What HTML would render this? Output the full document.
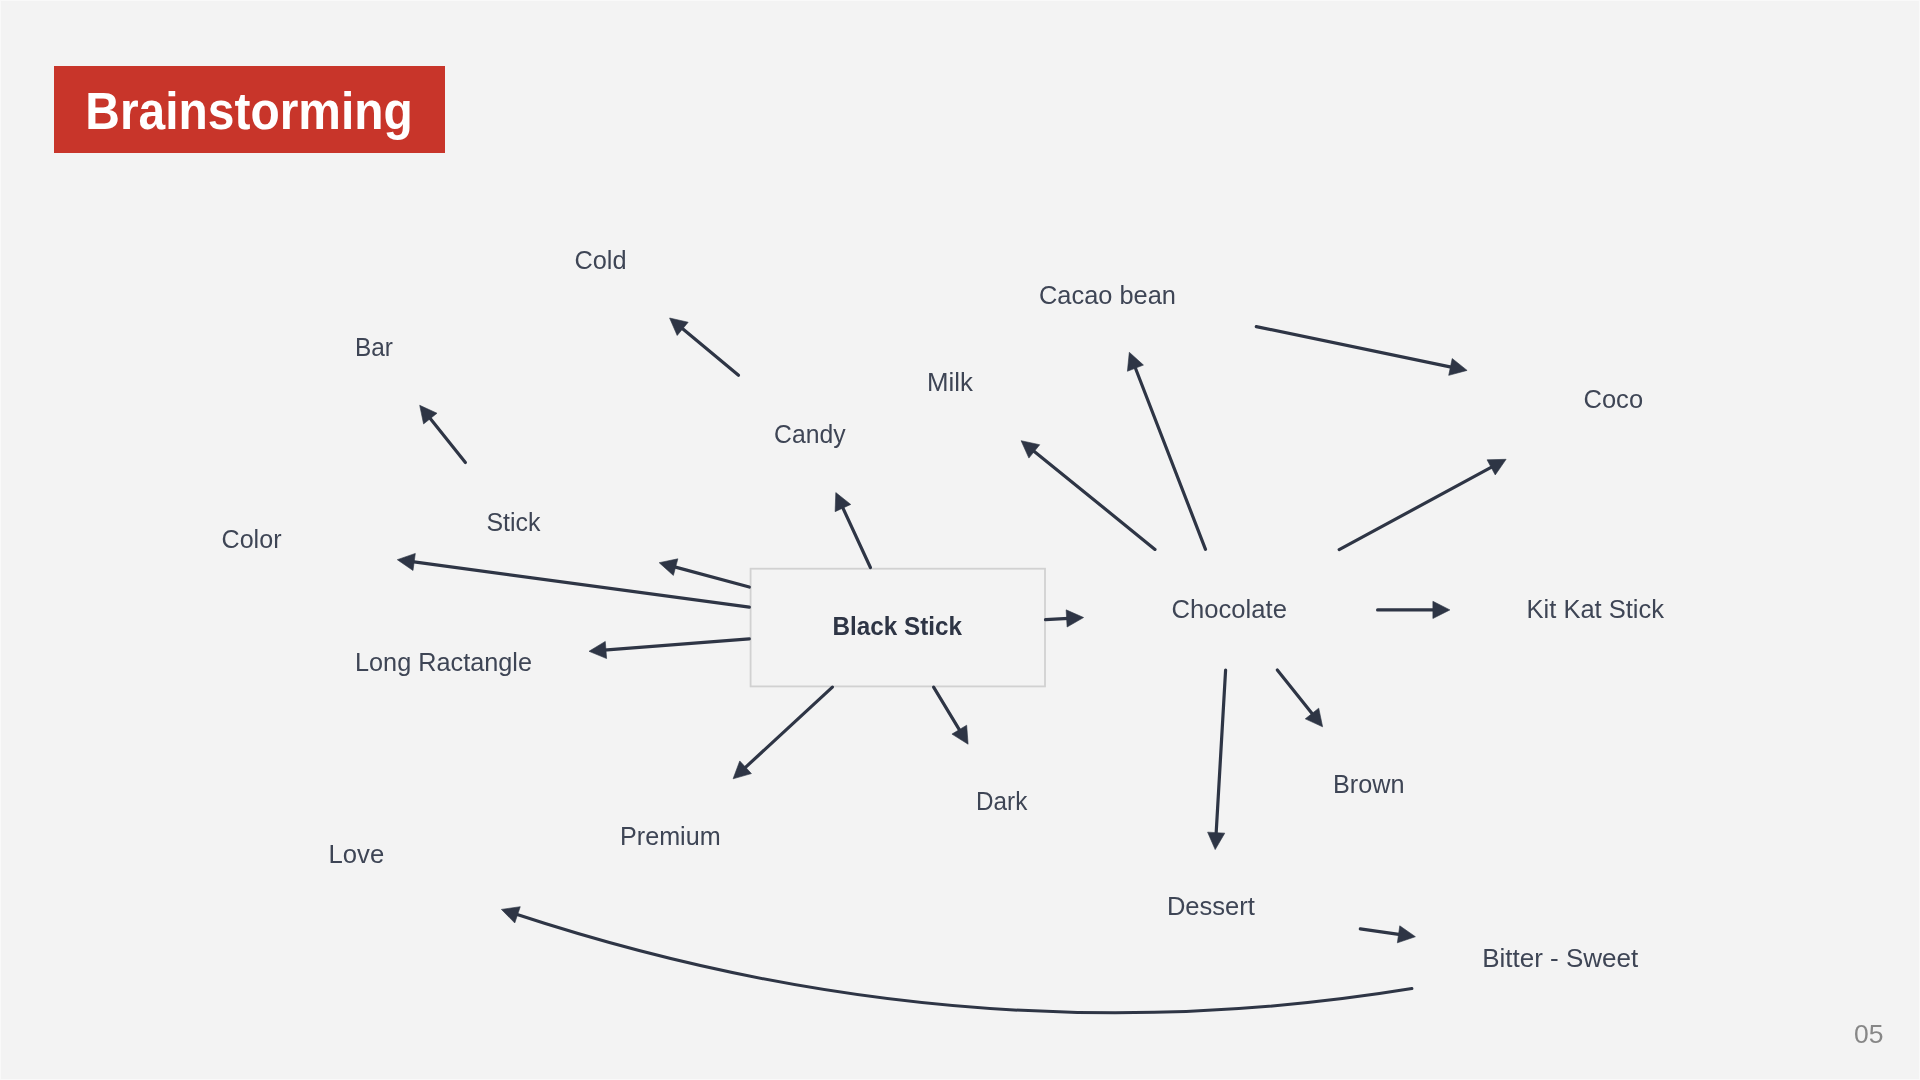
<!DOCTYPE html>
<html><head><meta charset="utf-8"><style>
html,body{margin:0;padding:0;width:1920px;height:1080px;overflow:hidden;background:#f3f3f3;}
body{position:relative;font-family:"Liberation Sans",sans-serif;}
.frame{position:absolute;left:0;top:0;width:1918px;height:1078px;border:1px solid #f9f9f9;}
.title{position:absolute;left:54px;top:66px;width:391px;height:86.5px;background:#c8352a;}
svg{position:absolute;left:0;top:0;will-change:transform;}
svg text{font-family:"Liberation Sans",sans-serif;}
</style></head><body>
<div class="frame"></div>
<div class="title"></div>

<svg width="1920" height="1080" viewBox="0 0 1920 1080">
<rect x="750.6" y="568.7" width="294.4" height="117.7" fill="none" stroke="#d1d1d1" stroke-width="1.8"/>
<g stroke="#2e3545" stroke-width="3.2" stroke-linecap="round" fill="none">
<line x1="738.50" y1="375.20" x2="681.14" y2="327.58"/>
<line x1="465.40" y1="462.60" x2="429.05" y2="417.03"/>
<line x1="1155.00" y1="549.40" x2="1032.75" y2="450.15"/>
<line x1="1205.50" y1="549.30" x2="1134.71" y2="366.29"/>
<line x1="1256.30" y1="326.60" x2="1452.41" y2="367.35"/>
<line x1="1339.20" y1="549.60" x2="1492.91" y2="466.44"/>
<line x1="870.40" y1="567.50" x2="842.09" y2="506.22"/>
<line x1="749.30" y1="587.00" x2="673.68" y2="566.61"/>
<line x1="749.30" y1="607.20" x2="412.17" y2="561.71"/>
<line x1="749.30" y1="638.80" x2="603.95" y2="650.13"/>
<line x1="1045.50" y1="619.60" x2="1068.62" y2="618.33"/>
<line x1="1377.60" y1="609.90" x2="1434.90" y2="609.90"/>
<line x1="832.40" y1="687.10" x2="744.12" y2="768.62"/>
<line x1="933.60" y1="687.10" x2="960.34" y2="731.36"/>
<line x1="1225.60" y1="670.00" x2="1216.07" y2="834.63"/>
<line x1="1277.30" y1="670.00" x2="1313.25" y2="715.07"/>
<line x1="1360.30" y1="928.90" x2="1400.55" y2="934.60"/>
<path d="M1411.90,988.56 Q963.76,1061.74 515.61,914.00" fill="none" stroke-width="3.0"/>
</g>
<g fill="#2e3545" stroke="#2e3545" stroke-width="0.6" stroke-linejoin="round">
<polygon points="669.60,318.00 688.17,322.24 677.19,335.48"/>
<polygon points="419.70,405.30 437.02,413.23 423.58,423.95"/>
<polygon points="1021.10,440.70 1039.72,444.74 1028.88,458.09"/>
<polygon points="1129.30,352.30 1143.45,365.05 1127.41,371.26"/>
<polygon points="1467.10,370.40 1448.71,375.36 1452.21,358.52"/>
<polygon points="1506.10,459.30 1495.24,474.95 1487.06,459.83"/>
<polygon points="835.80,492.60 850.74,504.43 835.12,511.64"/>
<polygon points="659.20,562.70 677.85,558.82 673.37,575.43"/>
<polygon points="397.30,559.70 415.30,553.45 413.00,570.50"/>
<polygon points="589.00,651.30 605.28,641.40 606.62,658.55"/>
<polygon points="1083.60,617.50 1067.10,627.02 1066.15,609.85"/>
<polygon points="1449.90,609.90 1432.90,618.50 1432.90,601.30"/>
<polygon points="733.10,778.80 739.75,760.95 751.42,773.58"/>
<polygon points="968.10,744.20 951.95,734.10 966.67,725.20"/>
<polygon points="1215.20,849.60 1207.60,832.13 1224.77,833.13"/>
<polygon points="1322.60,726.80 1305.28,718.87 1318.72,708.15"/>
<polygon points="1415.40,936.70 1397.36,942.83 1399.77,925.80"/>
<polygon points="501.40,909.40 520.26,906.69 514.76,922.98"/>
</g>
<text x="574.50" y="269.30" textLength="52.07" lengthAdjust="spacingAndGlyphs" font-size="25.5" font-weight="400" fill="#3e4555">Cold</text>
<text x="354.90" y="356.30" textLength="37.97" lengthAdjust="spacingAndGlyphs" font-size="25.5" font-weight="400" fill="#3e4555">Bar</text>
<text x="1039.00" y="304.30" textLength="136.95" lengthAdjust="spacingAndGlyphs" font-size="25.5" font-weight="400" fill="#3e4555">Cacao bean</text>
<text x="926.90" y="390.80" textLength="45.91" lengthAdjust="spacingAndGlyphs" font-size="25.5" font-weight="400" fill="#3e4555">Milk</text>
<text x="1583.50" y="408.30" textLength="59.57" lengthAdjust="spacingAndGlyphs" font-size="25.5" font-weight="400" fill="#3e4555">Coco</text>
<text x="774.10" y="443.10" textLength="71.52" lengthAdjust="spacingAndGlyphs" font-size="25.5" font-weight="400" fill="#3e4555">Candy</text>
<text x="486.40" y="531.00" textLength="53.97" lengthAdjust="spacingAndGlyphs" font-size="25.5" font-weight="400" fill="#3e4555">Stick</text>
<text x="221.50" y="548.00" textLength="60.01" lengthAdjust="spacingAndGlyphs" font-size="25.5" font-weight="400" fill="#3e4555">Color</text>
<text x="355.00" y="670.50" textLength="176.95" lengthAdjust="spacingAndGlyphs" font-size="25.5" font-weight="400" fill="#3e4555">Long Ractangle</text>
<text x="1171.50" y="618.00" textLength="115.42" lengthAdjust="spacingAndGlyphs" font-size="25.5" font-weight="400" fill="#3e4555">Chocolate</text>
<text x="1526.60" y="617.80" textLength="137.45" lengthAdjust="spacingAndGlyphs" font-size="25.5" font-weight="400" fill="#3e4555">Kit Kat Stick</text>
<text x="620.00" y="845.00" textLength="100.60" lengthAdjust="spacingAndGlyphs" font-size="25.5" font-weight="400" fill="#3e4555">Premium</text>
<text x="976.10" y="809.70" textLength="51.19" lengthAdjust="spacingAndGlyphs" font-size="25.5" font-weight="400" fill="#3e4555">Dark</text>
<text x="1332.90" y="792.50" textLength="71.57" lengthAdjust="spacingAndGlyphs" font-size="25.5" font-weight="400" fill="#3e4555">Brown</text>
<text x="1166.90" y="915.00" textLength="88.02" lengthAdjust="spacingAndGlyphs" font-size="25.5" font-weight="400" fill="#3e4555">Dessert</text>
<text x="1482.20" y="967.30" textLength="156.01" lengthAdjust="spacingAndGlyphs" font-size="25.5" font-weight="400" fill="#3e4555">Bitter - Sweet</text>
<text x="328.50" y="862.50" textLength="55.67" lengthAdjust="spacingAndGlyphs" font-size="25.5" font-weight="400" fill="#3e4555">Love</text>
<text x="832.60" y="635.20" textLength="129.38" lengthAdjust="spacingAndGlyphs" font-size="26" font-weight="700" fill="#2e3545">Black Stick</text>
<text x="85.30" y="128.50" textLength="327.52" lengthAdjust="spacingAndGlyphs" font-size="51" font-weight="700" fill="#ffffff">Brainstorming</text>
<text x="1854.10" y="1042.90" textLength="29.48" lengthAdjust="spacingAndGlyphs" font-size="25" font-weight="400" fill="#878787">05</text>
</svg>
</body></html>
